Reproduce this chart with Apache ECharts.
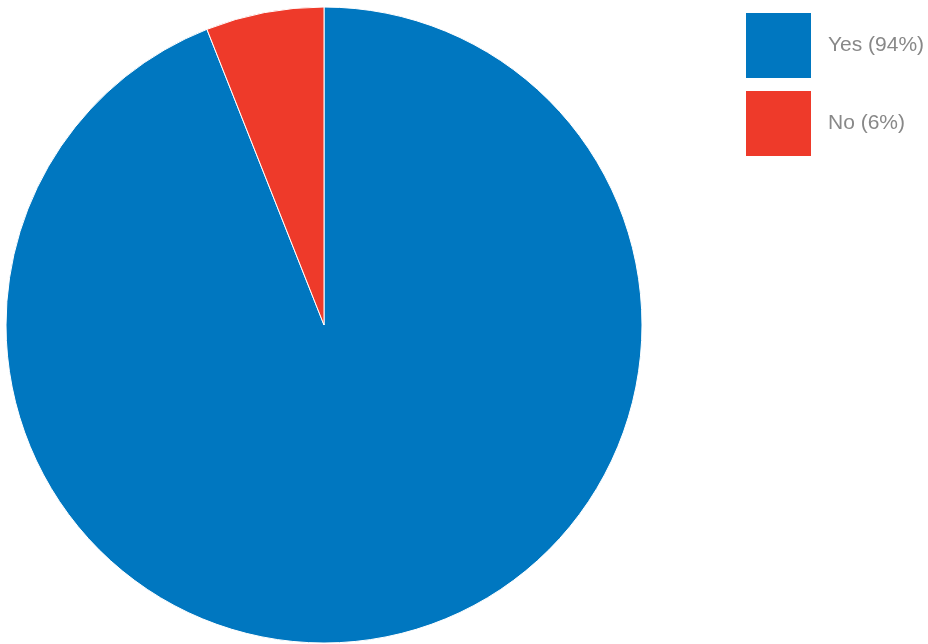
<!DOCTYPE html>
<html>
<head>
<meta charset="utf-8">
<script src="https://cdn.jsdelivr.net/npm/echarts@6/dist/echarts.min.js"></script>
<style>
  html, body { margin: 0; padding: 0; background: #fff; }
  #chart { width: 928px; height: 644px; }
</style>
</head>
<body>
<div id="chart"></div>
<script>
// Survey answers and their shares (percent)
const categories = ['Yes', 'No'];
const values = [94, 6];
const colors = ['#0077C0', '#EE3A2A'];

const total = values.reduce((a, b) => a + b, 0);
const pieData = categories.map((name, i) => ({
  name: name,
  value: values[i],
  itemStyle: { color: colors[i] }
}));

const chart = echarts.init(document.getElementById('chart'), null, { renderer: 'canvas' });
chart.setOption({
  animation: false,
  legend: {
    orient: 'vertical',
    left: 746,
    top: 13,
    padding: 0,
    itemWidth: 65,
    itemHeight: 65,
    itemGap: 13,
    icon: 'rect',
    selectedMode: false,
    itemStyle: { borderWidth: 0 },
    formatter: function (name) {
      const i = categories.indexOf(name);
      return name + ' (' + Math.round(values[i] / total * 100) + '%)';
    },
    textStyle: {
      color: '#888888',
      fontSize: 21,
      fontFamily: 'Liberation Sans, Arial, sans-serif',
      padding: [0, 0, 0, 12]
    }
  },
  series: [{
    type: 'pie',
    center: [324, 325],
    radius: [0, 318],
    startAngle: 90,
    clockwise: true,
    label: { show: false },
    labelLine: { show: false },
    emphasis: { disabled: true },
    itemStyle: { borderColor: '#ffffff', borderWidth: 1 },
    data: pieData
  }]
});
</script>
</body>
</html>
